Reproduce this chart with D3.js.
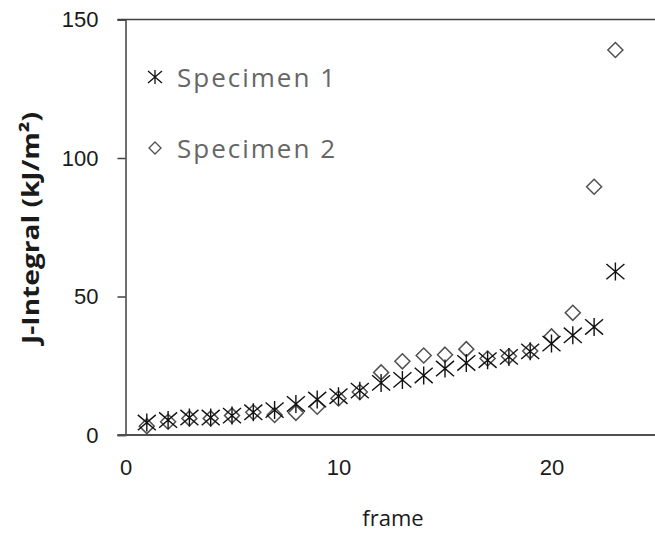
<!DOCTYPE html>
<meta charset="utf-8">
<style>
body { margin: 0; background: #fff; font-family: "Open Sans", sans-serif; }
.tick text { font-size: 22px; fill: #1a1a1a; }
</style>
<body>
<div id="chart"></div>
<script src="https://d3js.org/d3.v7.min.js"></script>
<script>

var frames = d3.range(1, 24);
var specimen1 = [4.5, 5.4, 6.3, 6.3, 7.0, 8.2, 9.0, 11.2, 12.8, 14.0, 16.0, 18.8, 19.9, 21.5, 24.0, 26.0, 27.0, 28.2, 30.2, 33.0, 36.0, 39.0, 59.0];
var specimen2 = [3.2, 4.8, 6.0, 6.0, 7.0, 8.2, 7.2, 8.0, 10.2, 13.2, 15.5, 22.6, 26.6, 28.7, 29.0, 31.0, 27.6, 28.4, 30.3, 35.6, 44.1, 89.6, 139.0];
var xTicks = [0, 10, 20];
var yTicks = [0, 50, 100, 150];
var seriesNames = ["Specimen 1", "Specimen 2"];

var width = 655, height = 533;
var plotLeft = 125.5, plotTop = 19.5, plotBottom = 435;

var svg = d3.select("#chart").append("svg")
    .attr("width", width)
    .attr("height", height);

var x = d3.scaleLinear().domain([0, 25]).range([plotLeft, plotLeft + 25 * 21.3]);
var y = d3.scaleLinear().domain([0, 150]).range([plotBottom, plotTop]);

// top frame line
svg.append("line")
    .attr("x1", plotLeft - 8).attr("x2", width)
    .attr("y1", plotTop).attr("y2", plotTop)
    .attr("stroke", "#404040").attr("stroke-width", 1.5);

var yAxis = svg.append("g")
    .attr("transform", "translate(" + plotLeft + ",0)")
    .call(d3.axisLeft(y).tickValues(yTicks).tickSize(8).tickPadding(19));
yAxis.select(".domain").attr("stroke", "#404040").attr("stroke-width", 1.5);
yAxis.selectAll(".tick line").attr("stroke", "#404040").attr("stroke-width", 1.5);

var xAxis = svg.append("g")
    .attr("transform", "translate(0," + plotBottom + ")")
    .call(d3.axisBottom(x).tickValues(xTicks).tickSize(0).tickPadding(24));
xAxis.select(".domain").attr("stroke", "#505050").attr("stroke-width", 2.2)
    .attr("d", "M" + (plotLeft - 8) + ",0H" + width);

// axis titles
svg.append("text")
    .attr("x", 393).attr("y", 526)
    .attr("text-anchor", "middle")
    .style("font-size", "22px").style("fill", "#1a1a1a")
    .text("frame");

svg.append("text")
    .attr("transform", "translate(39," + 228 + ") rotate(-90)")
    .attr("text-anchor", "middle")
    .style("font-size", "24px").style("font-weight", "bold").style("fill", "#1a1a1a")
    .attr("textLength", 232).attr("lengthAdjust", "spacingAndGlyphs")
    .text("J-Integral (kJ/m²)");

// markers
function asterisk(r) {
    var h = r * 0.85;
    return "M0," + (-r) + "V" + r +
        "M" + (-r) + "," + (-h) + "L" + r + "," + h +
        "M" + (-r) + "," + h + "L" + r + "," + (-h);
}
function diamond(r) {
    return "M0," + (-r) + "L" + r + ",0L0," + r + "L" + (-r) + ",0Z";
}

var pts1 = frames.map(function(f, i) { return {f: f, v: specimen1[i]}; });
var pts2 = frames.map(function(f, i) { return {f: f, v: specimen2[i]}; });

svg.append("g").selectAll("path")
    .data(pts2)
    .enter().append("path")
    .attr("transform", function(d) { return "translate(" + x(d.f) + "," + y(d.v) + ")"; })
    .attr("d", diamond(7.5))
    .attr("fill", "none").attr("stroke", "#505050").attr("stroke-width", 1.5);

svg.append("g").selectAll("path")
    .data(pts1)
    .enter().append("path")
    .attr("transform", function(d) { return "translate(" + x(d.f) + "," + y(d.v) + ")"; })
    .attr("d", asterisk(9))
    .attr("fill", "none").attr("stroke", "#111").attr("stroke-width", 1.4);

// legend
var legend = svg.append("g");
var legY = [77, 148];
legend.selectAll("path")
    .data(seriesNames)
    .enter().append("path")
    .attr("transform", function(d, i) { return "translate(155," + legY[i] + ")"; })
    .attr("d", function(d, i) { return i === 0 ? asterisk(7) : diamond(6); })
    .attr("fill", "none")
    .attr("stroke", function(d, i) { return i === 0 ? "#111" : "#505050"; })
    .attr("stroke-width", 1.3);

legend.selectAll("text")
    .data(seriesNames)
    .enter().append("text")
    .attr("x", 177)
    .attr("y", function(d, i) { return legY[i] + 10; })
    .style("font-size", "26px").style("fill", "#666")
    .attr("textLength", 158).attr("lengthAdjust", "spacing")
    .text(function(d) { return d; });

</script>
</body>
